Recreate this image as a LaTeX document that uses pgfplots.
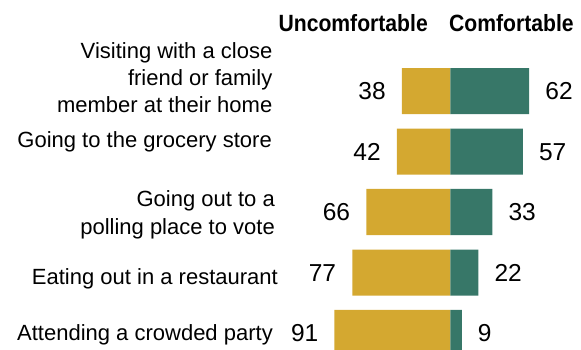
\documentclass[border=0pt]{standalone}
\usepackage{pgfplots}
\pgfplotsset{compat=1.18}
\usepackage{fontspec}
\setmainfont{Liberation Sans}
\newfontfamily\hdrfont{Liberation Sans}[FakeStretch=0.9]
\definecolor{gold}{HTML}{D4A830}
\definecolor{teal}{HTML}{377768}
\newcommand{\lab}{\fontsize{22bp}{27.5bp}\selectfont}
\begin{document}
\begin{tikzpicture}
\useasboundingbox (0,0) rectangle (581bp,350bp);
\begin{axis}[
  at={(0,0)}, anchor=south west,
  scale only axis, width=581bp, height=350bp,
  xmin=-353.73, xmax=102.67, ymin=0, ymax=350,
  hide axis, clip=true,
  xbar, bar width=46bp, bar shift=0pt,
  nodes near coords={\pgfplotspointmeta},
  point meta=explicit symbolic,
  every node near coord/.append style={font=\fontsize{24.5bp}{24.5bp}\selectfont, inner sep=0pt, text=black},
]
\addplot[fill=gold, draw=none, every node near coord/.append style={anchor=east, xshift=-16bp}]
  coordinates {(-38,258.8) [38] (-42,198.3) [42] (-66,138) [66] (-77,77.3) [77] (-91,17) [91]};
\addplot[fill=teal, draw=none, every node near coord/.append style={anchor=west, xshift=16bp}]
  coordinates {(62,258.8) [62] (57,198.3) [57] (33,138) [33] (22,77.3) [22] (9,17) [9]};
\end{axis}
% headers
\node[anchor=base east, inner sep=0pt, font=\hdrfont\bfseries\fontsize{23.5bp}{23.5bp}\selectfont] at (428bp,318.3bp) {Uncomfortable};
\node[anchor=base west, inner sep=0pt, font=\hdrfont\bfseries\fontsize{23.5bp}{23.5bp}\selectfont] at (449bp,318.3bp) {Comfortable};
% category labels
\node[anchor=base east, inner sep=0pt, font=\lab] at (272.5bp,291bp) {Visiting with a close};
\node[anchor=base east, inner sep=0pt, font=\lab] at (272.5bp,264bp) {friend or family};
\node[anchor=base east, inner sep=0pt, font=\lab] at (272.5bp,237.3bp) {member at their home};
\node[anchor=base east, inner sep=0pt, font=\lab] at (272bp,202.5bp) {Going to the grocery store};
\node[anchor=base east, inner sep=0pt, font=\lab] at (275bp,143.3bp) {Going out to a};
\node[anchor=base east, inner sep=0pt, font=\lab] at (275bp,115.7bp) {polling place to vote};
\node[anchor=base east, inner sep=0pt, font=\lab] at (278bp,65bp) {Eating out in a restaurant};
\node[anchor=base east, inner sep=0pt, font=\lab] at (273bp,10bp) {Attending a crowded party};
\end{tikzpicture}
\end{document}
